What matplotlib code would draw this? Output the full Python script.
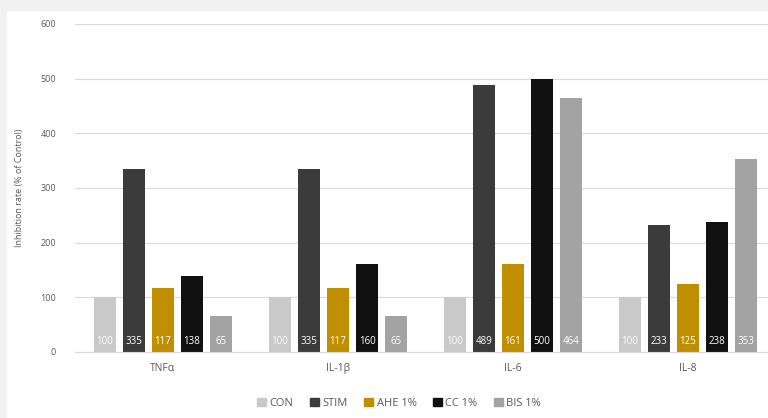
import numpy as np
import matplotlib.pyplot as plt
from matplotlib.patches import Patch

# Data
categories = ["TNFα", "IL-1β", "IL-6", "IL-8"]
series = ["CON", "STIM", "AHE 1%", "CC 1%", "BIS 1%"]
con = [100, 100, 100, 100]
stim = [335, 335, 489, 233]
ahe = [117, 117, 161, 125]
cc = [138, 160, 500, 238]
bis = [65, 65, 464, 353]
values = [con, stim, ahe, cc, bis]
colors = ["#c9c9c9", "#3b3b3b", "#bf8f00", "#111111", "#a3a3a3"]

plt.rcParams['font.family'] = ['Open Sans', 'DejaVu Sans']
text_color = "#595959"

fig = plt.figure(figsize=(7.68, 4.18), dpi=100)
fig.patch.set_facecolor("white")
# light grey frame at the top/left like the screenshot
fig.patches.append(plt.Rectangle((0, 0.975), 1, 0.025, transform=fig.transFigure,
                                 color="#f1f1f1", zorder=0))
fig.patches.append(plt.Rectangle((0, 0), 0.008, 1, transform=fig.transFigure,
                                 color="#f1f1f1", zorder=0))

ax = fig.add_axes([0.0983, 0.158, 0.9115, 0.785])

x = np.arange(len(categories))
step = 0.166
width = 0.126
for i, (name, vals, col) in enumerate(zip(series, values, colors)):
    pos = x + (i - 2) * step
    ax.bar(pos, vals, width, color=col, label=name, zorder=2)
    for p, v in zip(pos, vals):
        ax.text(p, 20, str(v), ha="center", va="center", color="white",
                fontsize=7, zorder=3)

ax.set_xlim(-0.5, 3.5)
ax.set_ylim(0, 600)
ax.set_yticks(range(0, 601, 100))
ax.set_xticks(x)
ax.set_xticklabels(categories)
ax.grid(axis="y", color="#d9d9d9", linewidth=0.8, zorder=0)
for s in ["top", "right", "left"]:
    ax.spines[s].set_visible(False)
ax.spines["bottom"].set_color("#d9d9d9")
ax.tick_params(axis="both", length=0, colors=text_color)
ax.tick_params(axis="y", labelsize=6.5, pad=14)
ax.tick_params(axis="x", labelsize=7.5, pad=8)
ax.set_ylabel("Inhibition rate (% of Control)", fontsize=6.5, color=text_color, labelpad=12)

handles = [Patch(color=c, label=s) for s, c in zip(series, colors)]
fig.legend(handles=handles, loc="center", bbox_to_anchor=(0.52, 0.035), ncol=5,
           frameon=False, fontsize=8, handlelength=0.8, handleheight=0.8,
           handletextpad=0.3, columnspacing=1.5, labelcolor=text_color)

fig.savefig("out.png", dpi=100, facecolor=fig.get_facecolor())
